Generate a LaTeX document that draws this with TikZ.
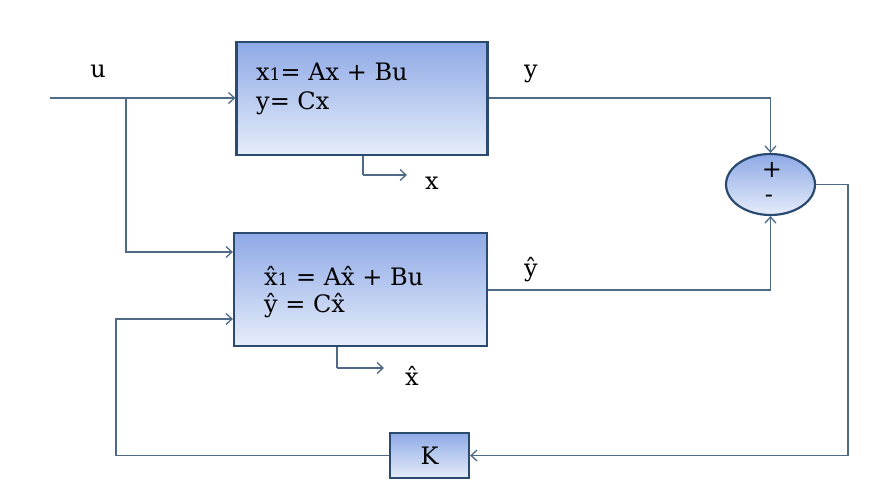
\documentclass[tikz,border=0pt]{standalone}
\usepackage{fontspec}
\setmainfont{DejaVu Serif}
\usetikzlibrary{arrows.meta,shapes.geometric}
\definecolor{bordc}{HTML}{2B4A6F}
\definecolor{linec}{HTML}{4F6A86}
\definecolor{topc}{HTML}{8EA9E6}
\definecolor{botc}{HTML}{E6EDFA}
\newcommand{\oneos}{{\fontsize{17}{17}\selectfont 1}}
\tikzset{
  blk/.style={draw=bordc,line width=2.2pt,top color=topc,bottom color=botc,inner sep=0pt},
  conn/.style={draw=linec,line width=1.5pt},
  arr/.style={conn,-{Straight Barb[length=6pt,width=11pt,line width=1.3pt]}},
  lbl/.style={font=\fontsize{24}{26}\selectfont,inner sep=0pt},
}
\begin{document}
\begin{tikzpicture}[x=1pt,y=-1pt]
\useasboundingbox[fill=white] (0,0) rectangle (896,486);
% blocks
\node[blk,minimum width=251pt,minimum height=113pt] (sys) at (362,98.5) {};
\node[blk,minimum width=253pt,minimum height=113pt] (obs) at (360.5,289.5) {};
\node[blk,ellipse,minimum width=89pt,minimum height=61pt] (sum) at (770.5,184.5) {};
\node[blk,minimum width=79pt,minimum height=45pt] (K) at (429.5,455.5) {};
% texts
\node[lbl,anchor=west] (t1) at (256,72) {x\oneos= Ax + Bu};
\node[lbl,anchor=west] (t2) at (256,103) {y= Cx};
\node[lbl,anchor=west] (t3) at (264,276) {\^{x}\oneos\ = A\^{x}\ + Bu};
\node[lbl,anchor=west] (t4) at (264,306) {\^{y}\ = C\^{x}};
\node[lbl] (kl) at (K) {K};
\node[lbl] (plus) at (772,170) {+};
\node[lbl] (minus) at (769,199) {-};
\node[lbl] (ul) at (98,71) {u};
\node[lbl] (yl) at (531,74) {y};
\node[lbl] (yhl) at (531,270) {\^{y}};
\node[lbl] (xl) at (432,183) {x};
\node[lbl] (xhl) at (412,376) {\^{x}};
% coordinates
\coordinate (uin) at (50,98);
\coordinate (br) at (126,98);
\coordinate (xo) at (363,175);
\coordinate (xoe) at (407,175);
\coordinate (xho) at (337,368);
\coordinate (xhoe) at (384,368);
% connectors
\draw[arr] (uin) -- (sys.west |- uin);
\draw[arr] (br) |- (obs.west |- 0,252);
\draw[arr] (sys.east |- 0,98) -| (sum.north);
\draw[arr] (obs.east |- 0,290) -| (sum.south);
\draw[arr] (sum.east) -- (848,184.5) |- (K.east);
\draw[arr] (K.west) -| (116,319) -- (obs.west |- 0,319);
\draw[conn] (sys.south -| xo) -- (xo);
\draw[arr] (xo) -- (xoe);
\draw[conn] (obs.south -| xho) -- (xho);
\draw[arr] (xho) -- (xhoe);
\end{tikzpicture}
\end{document}
